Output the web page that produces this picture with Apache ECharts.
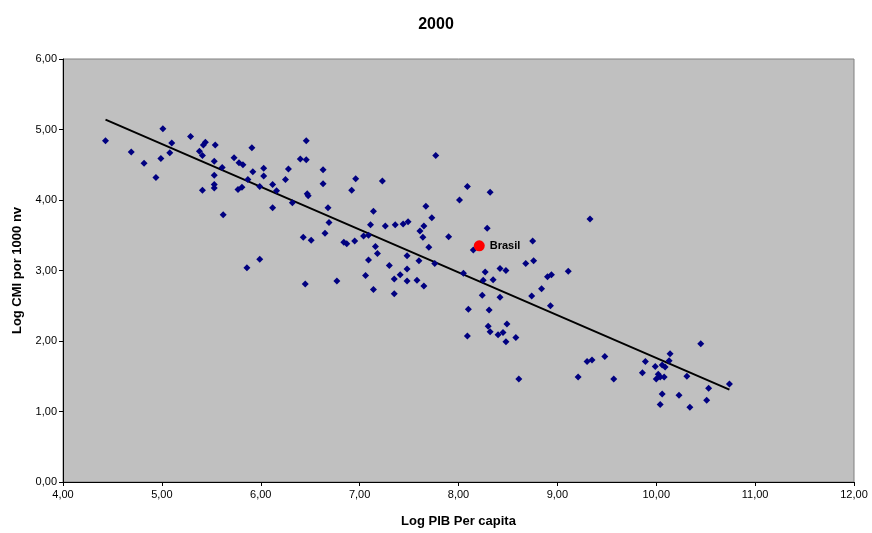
<!DOCTYPE html>
<html>
<head>
<meta charset="utf-8">
<script src="https://cdn.jsdelivr.net/npm/echarts@6/dist/echarts.min.js"></script>
<style>
  html, body { margin: 0; padding: 0; background: #fff; }
  #chart { width: 872px; height: 533px; }
</style>
</head>
<body>
<div id="chart"></div>
<script>
// Log PIB per capita (x) e Log CMI por 1000 nv (y)
var paisesX = [
    4.43, 4.69, 4.82, 4.94, 5.01, 4.99, 5.10, 5.08, 5.29, 5.44, 5.42, 5.54, 5.38, 5.41,
    5.53, 5.61, 5.53, 5.41, 5.53, 5.53, 5.62, 5.73, 5.78, 5.82, 5.91, 5.92, 5.87, 6.03,
    6.03, 5.77, 5.81, 5.99, 5.86, 5.99,
    6.12, 6.16, 6.12, 6.25, 6.28, 6.32, 6.40, 6.46, 6.46, 6.47, 6.48, 6.43, 6.51, 6.45,
    6.63, 6.63, 6.68, 6.69, 6.65, 6.77, 6.96, 6.92, 6.84, 6.87, 6.95, 7.04, 7.09, 7.11,
    7.14, 7.23, 7.16, 7.18, 7.09, 7.06, 7.14, 7.26, 7.36, 7.44, 7.49, 7.61, 7.30, 7.35,
    7.41, 7.48, 7.48, 7.48, 7.58, 7.35, 7.60,
    7.77, 8.09, 8.32, 8.01, 7.67, 7.73, 7.65, 7.64, 7.90, 8.29, 7.70, 7.76, 7.65, 8.15,
    8.75, 8.68, 8.76, 8.42, 8.48, 8.27, 8.05, 8.25, 8.35, 8.90, 8.94, 8.24, 8.42, 8.74,
    8.84, 8.93, 8.10, 8.31, 8.30, 8.32, 8.40, 8.45, 8.49, 8.48, 8.58, 8.09,
    9.33, 9.11, 8.61, 9.30, 9.35, 9.48, 9.21, 9.57,
    10.45, 10.14, 10.13, 9.89, 9.99, 10.06, 10.09, 9.86, 10.02, 10.00, 10.04, 10.08,
    10.31, 10.53, 10.74, 10.06, 10.23, 10.04, 10.34, 10.51
];
var paisesY = [
    4.84, 4.68, 4.52, 4.32, 5.01, 4.59, 4.81, 4.67, 4.90, 4.82, 4.78, 4.78, 4.69, 4.63,
    4.55, 4.46, 4.35, 4.14, 4.22, 4.17, 3.79, 4.60, 4.53, 4.50, 4.74, 4.40, 4.29, 4.45,
    4.34, 4.15, 4.18, 4.19, 3.04, 3.16,
    4.22, 4.13, 3.89, 4.29, 4.44, 3.96, 4.58, 4.84, 4.57, 4.09, 4.06, 3.47, 3.43, 2.81,
    4.43, 4.23, 3.89, 3.68, 3.53, 2.85, 4.30, 4.14, 3.40, 3.38, 3.42, 3.49, 3.50, 3.65,
    3.84, 4.27, 3.34, 3.24, 3.15, 2.93, 2.73, 3.63, 3.65, 3.66, 3.69, 3.56, 3.07, 2.88,
    2.94, 3.21, 3.02, 2.85, 2.86, 2.67, 3.14,
    4.63, 4.19, 4.11, 4.00, 3.91, 3.75, 3.63, 3.47, 3.48, 3.60, 3.33, 3.10, 2.78, 3.29,
    3.42, 3.10, 3.14, 3.03, 3.00, 2.98, 2.96, 2.86, 2.87, 2.91, 2.94, 2.65, 2.62, 2.64,
    2.74, 2.50, 2.45, 2.44, 2.21, 2.13, 2.09, 2.12, 2.24, 1.99, 2.05, 2.07,
    3.73, 2.99, 1.46, 1.71, 1.73, 1.78, 1.49, 1.46,
    1.96, 1.82, 1.72, 1.71, 1.64, 1.66, 1.63, 1.55, 1.53, 1.46, 1.49, 1.49,
    1.50, 1.33, 1.39, 1.25, 1.23, 1.10, 1.06, 1.16
];
var brasilX = 8.21;
var brasilY = 3.35;
// linha de tendência (extremos)
var tendX = [4.43, 10.74];
var tendY = [5.14, 1.31];

var pontos = paisesX.map(function (x, i) { return [x, paisesY[i]]; });
var tendencia = tendX.map(function (x, i) { return [x, tendY[i]]; });

function virgula(v) {
    return v.toFixed(2).replace('.', ',');
}

var myChart = echarts.init(document.getElementById('chart'));

var option = {
    backgroundColor: '#ffffff',
    animation: false,
    textStyle: { fontFamily: 'Liberation Sans, Arial, sans-serif' },
    title: {
        text: '2000',
        left: 'center',
        top: 12,
        textStyle: { fontSize: 16, fontWeight: 'bold', color: '#000' }
    },
    grid: {
        left: 63,
        right: 18,
        top: 59,
        bottom: 51,
        show: true,
        backgroundColor: '#c0c0c0',
        borderColor: '#808080',
        borderWidth: 1
    },
    xAxis: {
        type: 'value',
        min: 4,
        max: 12,
        interval: 1,
        name: 'Log PIB Per capita',
        nameLocation: 'middle',
        nameGap: 33,
        nameTextStyle: { fontSize: 13, fontWeight: 'bold', color: '#000' },
        axisLine: { onZero: false, lineStyle: { color: '#000', width: 1 } },
        axisTick: { show: true, length: 4, lineStyle: { color: '#000' } },
        axisLabel: { formatter: virgula, fontSize: 11, color: '#000', margin: 7 },
        splitLine: { show: false }
    },
    yAxis: {
        type: 'value',
        min: 0,
        max: 6,
        interval: 1,
        name: 'Log CMI por 1000 nv',
        nameLocation: 'middle',
        nameGap: 39,
        nameTextStyle: { fontSize: 13, fontWeight: 'bold', color: '#000' },
        axisLine: { show: true, lineStyle: { color: '#000', width: 1 } },
        axisTick: { show: true, length: 4, lineStyle: { color: '#000' } },
        axisLabel: { formatter: virgula, fontSize: 11, color: '#000', margin: 6 },
        splitLine: { show: false }
    },
    series: [
        {
            type: 'line',
            data: tendencia,
            symbol: 'none',
            lineStyle: { color: '#000', width: 2 },
            z: 3
        },
        {
            type: 'scatter',
            data: pontos,
            symbol: 'diamond',
            symbolSize: 7,
            itemStyle: { color: '#000080', opacity: 1 },
            z: 4
        },
        {
            type: 'scatter',
            data: [[brasilX, brasilY]],
            symbol: 'circle',
            symbolSize: 11,
            itemStyle: { color: '#ff0000', opacity: 1 },
            label: {
                show: true,
                position: 'right',
                distance: 5,
                formatter: 'Brasil',
                fontSize: 11,
                fontWeight: 'bold',
                color: '#000'
            },
            z: 5
        }
    ]
};

myChart.setOption(option);
</script>
</body>
</html>
